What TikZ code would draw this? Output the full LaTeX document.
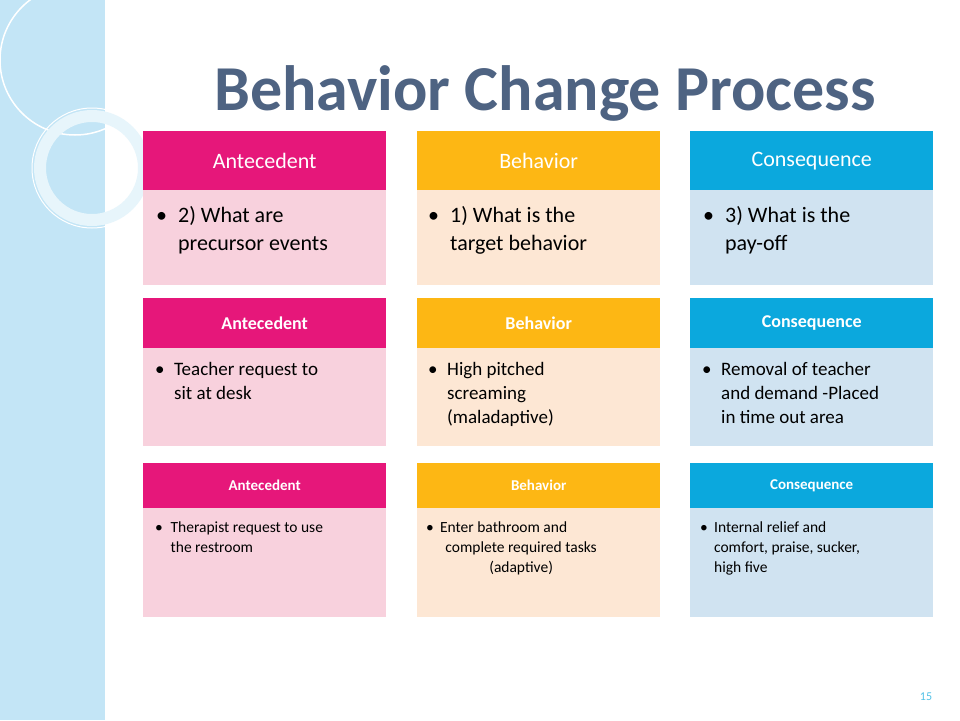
\documentclass[tikz,border=0pt]{standalone}
\usepackage{fontspec}
\setmainfont{Carlito}
\usepackage{tikz}
\usetikzlibrary{positioning}
\definecolor{antecol}{HTML}{E6177A}
\definecolor{antebg}{HTML}{F8D1DD}
\definecolor{behacol}{HTML}{FDB714}
\definecolor{behabg}{HTML}{FDE7D4}
\definecolor{conscol}{HTML}{0BA8DD}
\definecolor{consbg}{HTML}{D0E3F1}
\definecolor{stripcol}{HTML}{C3E5F6}
\definecolor{titlecol}{HTML}{4E6382}
\newcommand{\bul}[2]{\begin{tabular}{@{}l@{\hspace{0.5em}}l@{}}\textbullet & #1\\ & #2\end{tabular}}
\begin{document}
\begin{tikzpicture}[
    x=1pt, y=-1pt,
    headbox/.style={anchor=north west, minimum width=243pt, inner sep=0pt, text=white},
    bodybox/.style={anchor=north west, minimum width=243pt, inner sep=0pt},
    bodytext/.style={anchor=north west, align=left, inner sep=0pt}
  ]
    \useasboundingbox (0,0) rectangle (960,720);
    \fill[white] (0,0) rectangle (960,720);
    % left strip
    \fill[stripcol] (0,0) rectangle (105,720);
    \draw[white, line width=2pt] (106,0) -- (106,720);
    \draw[white, line width=1.5pt] (75,60) circle (75);
    \draw[white!60!stripcol, line width=12pt] (92,168) circle (52);
    \draw[white, line width=1pt] (92,168) circle (60);
    % title
    \node[text=titlecol, font=\fontsize{64}{70}\selectfont\bfseries] (title) at (545,93) {Behavior Change Process};
    % row 1
    \node[headbox, fill=antecol, minimum height=59pt, font=\fontsize{22}{26}\selectfont] (ante1) at (143,131) {Antecedent};
    \node[bodybox, fill=antebg, minimum height=95pt] (antebody1) at (143,190) {};
    \node[bodytext, font=\fontsize{22}{28}\selectfont] at (156,203) {\bul{2) What are}{precursor events}};
    \node[headbox, fill=behacol, minimum height=59pt, font=\fontsize{22}{26}\selectfont] (beha1) at (417,131) {Behavior};
    \node[bodybox, fill=behabg, minimum height=95pt] (behabody1) at (417,190) {};
    \node[bodytext, font=\fontsize{22}{28}\selectfont] at (428,203) {\bul{1) What is the}{target behavior}};
    \node[headbox, fill=conscol, minimum height=59pt, font=\fontsize{22}{26}\selectfont] (cons1) at (690,131) {Consequence};
    \node[bodybox, fill=consbg, minimum height=95pt] (consbody1) at (690,190) {};
    \node[bodytext, font=\fontsize{22}{28}\selectfont] at (703,203) {\bul{3) What is the}{pay-off}};
    % row 2
    \node[headbox, fill=antecol, minimum height=50pt, font=\fontsize{18}{22}\selectfont\bfseries] (ante2) at (143,298) {Antecedent};
    \node[bodybox, fill=antebg, minimum height=98pt] (antebody2) at (143,348) {};
    \node[bodytext, font=\fontsize{19}{24}\selectfont] at (155,358) {\bul{Teacher request to}{sit at desk}};
    \node[headbox, fill=behacol, minimum height=50pt, font=\fontsize{18}{22}\selectfont\bfseries] (beha2) at (417,298) {Behavior};
    \node[bodybox, fill=behabg, minimum height=98pt] (behabody2) at (417,348) {};
    \node[bodytext, font=\fontsize{19}{24}\selectfont] at (428,358) {\begin{tabular}{@{}l@{\hspace{0.5em}}l@{}}\textbullet & High pitched\\ & screaming\\ & (maladaptive)\end{tabular}};
    \node[headbox, fill=conscol, minimum height=50pt, font=\fontsize{18}{22}\selectfont\bfseries] (cons2) at (690,298) {Consequence};
    \node[bodybox, fill=consbg, minimum height=98pt] (consbody2) at (690,348) {};
    \node[bodytext, font=\fontsize{19}{24}\selectfont] at (702,358) {\begin{tabular}{@{}l@{\hspace{0.5em}}l@{}}\textbullet & Removal of teacher\\ & and demand -Placed\\ & in time out area\end{tabular}};
    % row 3
    \node[headbox, fill=antecol, minimum height=45pt, font=\fontsize{15}{18}\selectfont\bfseries] (ante3) at (143,463) {Antecedent};
    \node[bodybox, fill=antebg, minimum height=109pt] (antebody3) at (143,508) {};
    \node[bodytext, font=\fontsize{15.5}{20}\selectfont] at (155,518) {\bul{Therapist request to use}{the restroom}};
    \node[headbox, fill=behacol, minimum height=45pt, font=\fontsize{15}{18}\selectfont\bfseries] (beha3) at (417,463) {Behavior};
    \node[bodybox, fill=behabg, minimum height=109pt] (behabody3) at (417,508) {};
    \node[bodytext, font=\fontsize{15.5}{20}\selectfont] at (426,518) {\begin{tabular}{@{}l@{\hspace{0.4em}}c@{}}\textbullet & Enter bathroom and\hphantom{ tasks}\\ & complete required tasks\\ & (adaptive)\end{tabular}};
    \node[headbox, fill=conscol, minimum height=45pt, font=\fontsize{15}{18}\selectfont\bfseries] (cons3) at (690,463) {Consequence};
    \node[bodybox, fill=consbg, minimum height=109pt] (consbody3) at (690,508) {};
    \node[bodytext, font=\fontsize{15.5}{20}\selectfont] at (700,518) {\begin{tabular}{@{}l@{\hspace{0.4em}}l@{}}\textbullet & Internal relief and\\ & comfort, praise, sucker,\\ & high five\end{tabular}};
    % page number
    \node[text=conscol!70, font=\fontsize{12}{14}\selectfont] (page) at (926,697) {15};
  \end{tikzpicture}
\end{document}
